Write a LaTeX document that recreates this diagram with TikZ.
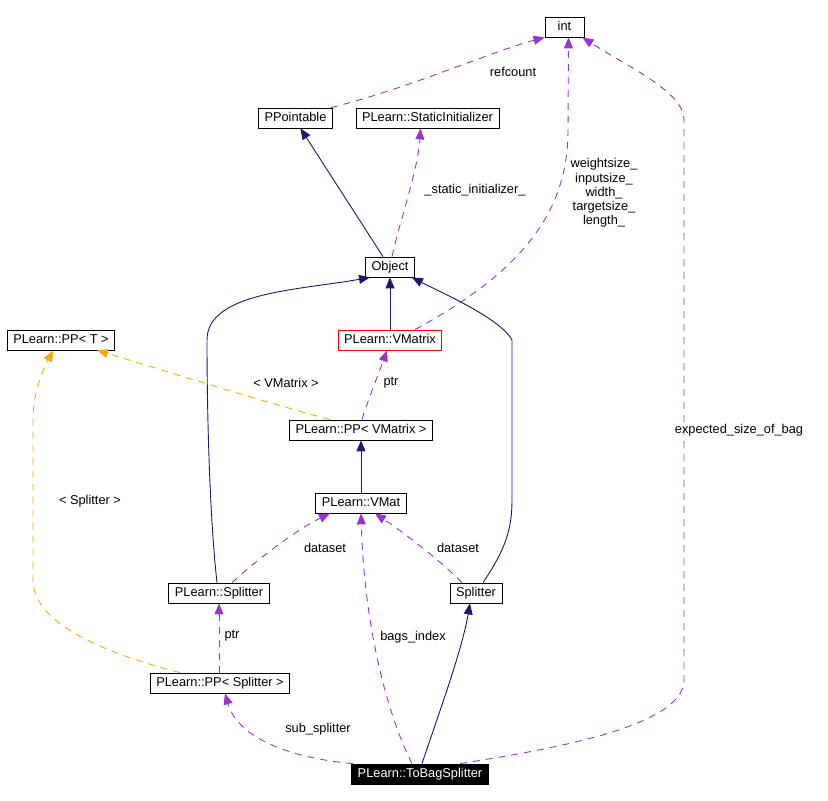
\documentclass[tikz,border=0pt]{standalone}
\usepackage{fontspec}
\setmainfont{Liberation Sans}
\usepackage{tikz}
\usepackage{xcolor}
\usetikzlibrary{positioning,arrows.meta}

\definecolor{edgenavy}{HTML}{191970}
\definecolor{edgepurple}{HTML}{9A32CD}
\definecolor{edgeorange}{HTML}{FFA500}

\tikzset{
  cls/.style={draw=black, line width=0.8pt, fill=white, inner xsep=6pt, inner ysep=0pt,
    minimum height=20pt, minimum width=39pt, text height=9.5pt, text depth=2.5pt,
    font=\fontsize{12.8}{14.3}\selectfont},
  lbl/.style={inner sep=0pt, font=\fontsize{12.8}{14.3}\selectfont},
  inherit/.style={draw=edgenavy, line width=0.9pt, -{Triangle[length=11pt,width=9pt]}},
  usage/.style={draw=edgepurple, line width=0.9pt, dash pattern=on 7pt off 6pt,
    -{Triangle[length=11pt,width=9pt,fill=edgepurple]}},
  templ/.style={draw=edgeorange, line width=0.9pt, dash pattern=on 7pt off 6pt,
    -{Triangle[length=11pt,width=9pt,fill=edgeorange]}}
}

\begin{document}
\begin{tikzpicture}[x=1pt,y=-1pt]
\useasboundingbox (0,0) rectangle (828,801);
% classes
\node[cls] (intnode) at (564.5,27) {int};
\node[cls] (pointable) at (295.5,118) {PPointable};
\node[cls] (staticinit) at (427.5,118) {PLearn::StaticInitializer};
\node[cls] (object) at (390,267) {Object};
\node[cls] (ppT) at (61,340) {PLearn::PP< T >};
\node[cls, draw=red] (vmatrix) at (390,340) {PLearn::VMatrix};
\node[cls] (ppvmatrix) at (361,430) {PLearn::PP< VMatrix >};
\node[cls] (vmat) at (361,503) {PLearn::VMat};
\node[cls] (plsplitter) at (219,593) {PLearn::Splitter};
\node[cls] (splitter) at (476,593) {Splitter};
\node[cls] (ppsplitter) at (220,683) {PLearn::PP< Splitter >};
\node[cls, fill=black, text=white] (tobag) at (420,774) {PLearn::ToBagSplitter};
% inheritance
\draw[inherit] ([xshift=-7pt]object.north) -- ([xshift=5pt]pointable.south);
\draw[inherit] (vmatrix.north) -- (object.south);
\draw[inherit] ([xshift=-2pt]plsplitter.north) .. controls (210,520) and (207,420) .. (207,340)
  .. controls (207,292) and (300,290) .. ([xshift=-20pt]object.south);
\draw[inherit] ([xshift=7pt]splitter.north) .. controls (505,550) and (512,530) .. (512,500)
  -- (512,340) .. controls (500,318) and (440,292) .. ([xshift=-3pt]object.south east);
\draw[inherit] (vmat.north) -- (ppvmatrix.south);
\draw[inherit] ([xshift=2pt]tobag.north) .. controls (440,710) and (462,650) .. ([xshift=-6pt]splitter.south);
% usage
\draw[usage] ([xshift=-2pt]pointable.north east) .. controls (410,88) and (490,52) .. (intnode.south west);
\draw[usage] ([xshift=2pt]object.north) .. controls (400,220) and (418,170) .. ([xshift=-7pt]staticinit.south);
\draw[usage] ([xshift=25pt]vmatrix.north) .. controls (525,270) and (568,210) .. (568,130)
  -- ([xshift=4pt]intnode.south);
\draw[usage] ([xshift=40pt]tobag.north) .. controls (560,748) and (684,725) .. (684,680)
  -- (684,120) .. controls (684,92) and (630,68) .. ([xshift=-2pt]intnode.south east);
\draw[usage] ([xshift=1pt]ppvmatrix.north) .. controls (368,400) and (380,370) .. ([xshift=-3pt]vmatrix.south);
\draw[usage] ([xshift=13pt]plsplitter.north) .. controls (262,555) and (300,528) .. ([xshift=-31pt]vmat.south);
\draw[usage] ([xshift=-14pt]splitter.north) .. controls (440,560) and (400,530) .. ([xshift=14pt]vmat.south);
\draw[usage] ([xshift=-8pt]tobag.north) .. controls (385,710) and (364,620) .. (vmat.south);
\draw[usage] ([xshift=-67pt]tobag.north) .. controls (290,758) and (238,738) .. ([xshift=5pt]ppsplitter.south);
\draw[usage] ([xshift=-1pt]ppsplitter.north) -- (plsplitter.south);
% template instances
\draw[templ] ([xshift=-31pt]ppvmatrix.north) .. controls (250,398) and (150,366) .. ([xshift=36pt]ppT.south);
\draw[templ] ([xshift=-40pt]ppsplitter.north) .. controls (100,652) and (33,622) .. (33,580)
  -- (33,420) .. controls (33,390) and (45,366) .. ([xshift=-8pt]ppT.south);
% labels
\node[lbl] (lrefcount) at (513,72) {refcount};
\node[lbl] (lstatic) at (475,190) {\_static\_initializer\_};
\node[lbl, align=center] (lsizes) at (604,193) {weightsize\_\\inputsize\_\\width\_\\targetsize\_\\length\_};
\node[lbl] (lexpected) at (739,430) {expected\_size\_of\_bag};
\node[lbl] (lvmatrix) at (286,383) {< VMatrix >};
\node[lbl] (lptrvm) at (391,383) {ptr};
\node[lbl] (lsplitterT) at (90,501) {< Splitter >};
\node[lbl] (ldataset1) at (325,548) {dataset};
\node[lbl] (ldataset2) at (458,548) {dataset};
\node[lbl] (lbags) at (413,637) {bags\_index};
\node[lbl] (lptrsp) at (232,636) {ptr};
\node[lbl] (lsub) at (318,729) {sub\_splitter};
\end{tikzpicture}
\end{document}
